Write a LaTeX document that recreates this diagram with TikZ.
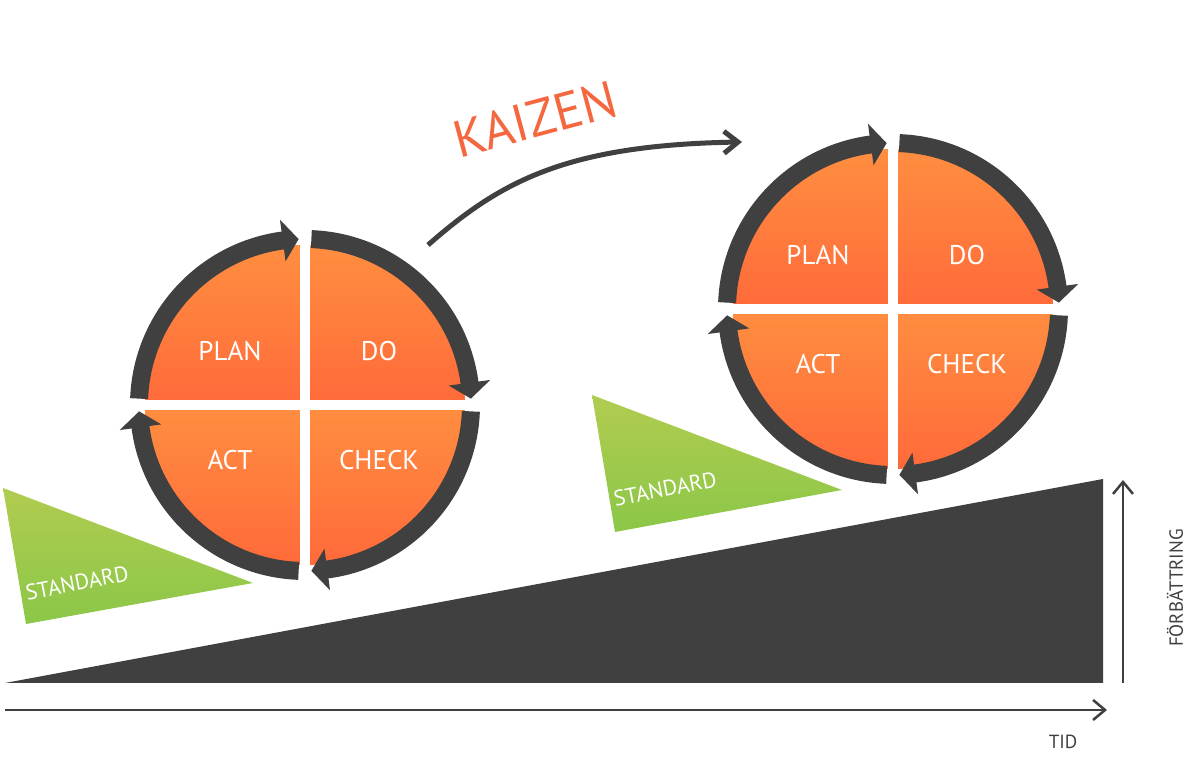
\documentclass[tikz,border=0pt]{standalone}
\usepackage{fontspec}
\setmainfont{PT Sans}
\usetikzlibrary{arrows.meta,positioning}
\definecolor{ringgray}{HTML}{404040}
\definecolor{orangetop}{HTML}{FF8E40}
\definecolor{orangebot}{HTML}{FF6A3A}
\definecolor{greentop}{HTML}{B1CC50}
\definecolor{greenbot}{HTML}{8BC748}
\definecolor{kaizenred}{HTML}{F4673F}
\tikzset{ring/.style={draw=ringgray,line width=18pt},
         ring tip/.style={fill=ringgray},
         quadrant/.style={top color=orangetop,bottom color=orangebot,draw=none},
         cross/.style={draw=white,line width=10pt},
         phase/.style={text=white,font=\fontsize{27}{29}\selectfont},
         standard/.style={top color=greentop,bottom color=greenbot,draw=none},
         std label/.style={text=white,font=\fontsize{22}{24}\selectfont,rotate=11},
         axis label/.style={text=ringgray,font=\fontsize{19}{21}\selectfont},
         axis/.style={draw=ringgray,line width=2.5pt,-{Straight Barb[length=12pt,width=20pt]}}
}

\begin{document}
\begin{tikzpicture}[x=1pt,y=1pt]
    \useasboundingbox (0,0) rectangle (1200,767);

    % ground and axes
    \fill[ringgray] (5,84) -- (1103,288) -- (1103,84) -- cycle;
    \coordinate (tid from) at (5,57);
    \coordinate (tid to) at (1107,57);
    \coordinate (fb from) at (1123,84);
    \coordinate (fb to) at (1123,287);
    \draw[axis] (tid from) -- (tid to);
    \draw[axis] (fb from) -- (fb to);
    \node[axis label] (tid) at (1063,25) {TID};
    \node[axis label,rotate=90] (forbattring) at (1175,179) {FÖRBÄTTRING};

    % standards
    \path[standard] (3,279) -- (253,184) -- (26,143) -- cycle;
    \node[std label] (std1) at (77,184) {STANDARD};
    \path[standard] (592,372) -- (842,277) -- (615,235) -- cycle;
    \node[std label] (std2) at (665,278) {STANDARD};

    % pdca wheels
    \coordinate (c1) at (305,362);
    \coordinate (c2) at (893,458);
    \foreach \c in {c1,c2}{
        \path[quadrant] (\c) -- ++(0,160) arc[start angle=90,end angle=180,radius=160] -- cycle;
        \path[quadrant] (\c) -- ++(0,160) arc[start angle=90,end angle=0,radius=160] -- cycle;
        \path[quadrant] (\c) -- ++(0,-160) arc[start angle=270,end angle=180,radius=160] -- cycle;
        \path[quadrant] (\c) -- ++(0,-160) arc[start angle=270,end angle=360,radius=160] -- cycle;
        \draw[cross] ([xshift=-161pt]\c) -- ([xshift=161pt]\c);
        \draw[cross] ([yshift=-161pt]\c) -- ([yshift=161pt]\c);
        \foreach \a in {180,90,0,270}{
            \draw[ring] (\c) ++(\a-2.2:166) arc[start angle=\a-2.2,end angle=\a-83,radius=166];
            \fill[ring tip] ([shift={(\a-82.3:145)}]\c) -- ([shift={(\a-87.8:166)}]\c)
                -- ([shift={(\a-82.3:187)}]\c) -- cycle;
        }
        \node[phase] (plan-\c) at ([shift={(-75,54)}]\c) {PLAN};
        \node[phase] (do-\c) at ([shift={(74,54)}]\c) {DO};
        \node[phase] (act-\c) at ([shift={(-75,-55)}]\c) {ACT};
        \node[phase] (check-\c) at ([shift={(74,-55)}]\c) {CHECK};
    }

    % kaizen step
    \node[text=kaizenred,font=\fontsize{52}{55}\selectfont,rotate=15] (kaizen) at (535,648) {KAIZEN};
    \coordinate (kz from) at (428,522);
    \coordinate (kz to) at (742,625);
    \draw[draw=ringgray,line width=5pt,-{Straight Barb[length=14pt,width=22pt]}]
        (kz from) .. controls (500,585) and (565,622) .. (kz to);

\end{tikzpicture}
\end{document}
